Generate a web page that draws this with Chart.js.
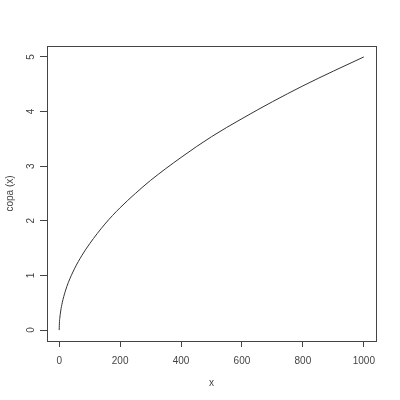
<!DOCTYPE html>
<html>
<head>
<meta charset="utf-8">
<script src="https://cdn.jsdelivr.net/npm/chart.js@4"></script>
<style>
  html, body { margin: 0; padding: 0; background: #fff; }
  #wrap { width: 400px; height: 400px; }
</style>
</head>
<body>
<div id="wrap"><canvas id="chart" width="400" height="400"></canvas></div>
<script>
// values
const xValues = [0, 1, 2, 5, 10, 20, 30, 50, 75, 100, 150, 200, 250, 300, 400, 500, 600, 700, 800, 900, 1000];
const yValues = [0, 0.16, 0.22, 0.35, 0.5, 0.71, 0.87, 1.12, 1.37, 1.58, 1.94, 2.24, 2.5, 2.74, 3.16, 3.54, 3.87, 4.18, 4.47, 4.74, 5.0];
const xTicks = [0, 200, 400, 600, 800, 1000];
const yTicks = [0, 1, 2, 3, 4, 5];

const ink = "#444";
const font = { family: "'Liberation Sans', Arial, sans-serif", size: 10 };

const points = xValues.map((x, i) => ({ x: x, y: yValues[i] }));

// box around plot + rotated y tick labels (R style)
const rBox = {
    id: "rBox",
    afterDraw(chart) {
        const ctx = chart.ctx;
        const a = chart.chartArea;
        ctx.save();
        ctx.strokeStyle = ink;
        ctx.lineWidth = 1;
        ctx.strokeRect(Math.round(a.left) + 0.5, Math.round(a.top) + 0.5,
            Math.round(a.right - a.left), Math.round(a.bottom - a.top));

        const ys = chart.scales.y;
        ctx.fillStyle = ink;
        ctx.font = font.size + "px " + font.family;
        ctx.textAlign = "center";
        ctx.textBaseline = "middle";
        yTicks.forEach(v => {
            const py = ys.getPixelForValue(v);
            ctx.save();
            ctx.translate(31, py);
            ctx.rotate(-Math.PI / 2);
            ctx.fillText(String(v), 0, 0);
            ctx.restore();
        });
        ctx.restore();
    }
};

new Chart(document.getElementById("chart"), {
    type: "scatter",
    data: {
        datasets: [{
            data: points,
            showLine: true,
            borderColor: "#333",
            borderWidth: 1,
            pointRadius: 0,
            cubicInterpolationMode: "monotone",
            fill: false
        }]
    },
    options: {
        responsive: false,
        animation: false,
        layout: { padding: { top: 46, right: 24, left: 0, bottom: 0 } },
        plugins: {
            legend: { display: false },
            tooltip: { enabled: false }
        },
        scales: {
            x: {
                type: "linear",
                min: -40,
                max: 1040,
                afterBuildTicks: s => { s.ticks = xTicks.map(v => ({ value: v })); },
                afterFit: s => { s.height = 59; },
                border: { display: false },
                grid: { drawOnChartArea: false, drawTicks: true, tickLength: 6, color: ink },
                ticks: { color: ink, font: font, padding: 8, maxRotation: 0, callback: v => String(v) },
                title: { display: true, text: "x", color: ink, font: font, padding: { top: 0, bottom: 11 } }
            },
            y: {
                type: "linear",
                min: -0.2,
                max: 5.2,
                afterBuildTicks: s => { s.ticks = yTicks.map(v => ({ value: v })); },
                afterFit: s => { s.width = 47; },
                border: { display: false },
                grid: { drawOnChartArea: false, drawTicks: true, tickLength: 7, color: ink },
                ticks: { display: true, color: "rgba(0,0,0,0)", font: font, callback: v => String(v) },
                title: { display: true, text: "copa (x)", color: ink, font: font, padding: { top: 4, bottom: 0 } }
            }
        }
    },
    plugins: [rBox]
});
</script>
</body>
</html>
